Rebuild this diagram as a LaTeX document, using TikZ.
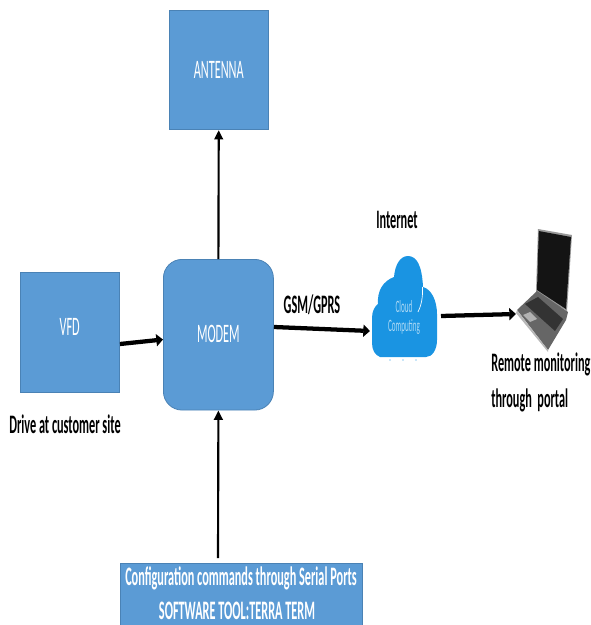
\documentclass[tikz,border=0pt]{standalone}
\usepackage{fontspec}
\setmainfont{Carlito}
\usetikzlibrary{arrows.meta}
\definecolor{boxblue}{HTML}{5B9BD5}
\definecolor{boxedge}{HTML}{4A82B5}
\definecolor{cloudblue}{HTML}{1A94E2}
\newcommand{\sq}[2][0.46]{\scalebox{#1}[1]{#2}}
\tikzset{
  box/.style={draw=boxedge,fill=boxblue,line width=0.6pt,text=white,inner sep=0pt,font=\fontsize{20}{24}\selectfont},
  note/.style={text=black,inner sep=0pt,font=\bfseries\fontsize{20}{24}\selectfont},
  bar/.style={text=white,inner sep=0pt,font=\bfseries\fontsize{20}{24}\selectfont},
  thin link/.style={draw=black,line width=1.6pt,-{Triangle[length=7pt,width=6.5pt]}},
  thick link/.style={draw=black,line width=3.2pt,-{Triangle[length=5pt,width=9pt]}}
}
\begin{document}
\begin{tikzpicture}[x=0.75pt,y=-0.75pt]
\useasboundingbox (0,0) rectangle (590,625);
% boxes
\node[box,minimum width=74pt,minimum height=89.5pt,anchor=north west] (ant) at (169,10) {\sq{ANTENNA}};
\node[box,minimum width=74pt,minimum height=90pt,anchor=north west] (vfd) at (20,272) {\raisebox{8pt}{\sq{VFD}}};
\node[box,rounded corners=14pt,minimum width=82.5pt,minimum height=113pt,anchor=north west] (modem) at (163,259) {\raisebox{1pt}{\sq{MODEM}}};
% bottom bar
\fill[boxblue,draw=boxedge,line width=0.4pt] (120,563) rectangle (362,625);
\node[bar] (cfg) at (241,578) {\sq{Configuration commands through Serial Ports}};
\node[bar] (sw) at (237,611) {\sq{SOFTWARE TOOL:TERRA TERM}};
% cloud
\fill[cloudblue] (380,357) .. controls (375,355) and (372,350) .. (372,343)
  -- (372,318) .. controls (372,311) and (375,306) .. (378,304)
  .. controls (377,291) and (383,281) .. (394,277)
  .. controls (395,265) and (400,256) .. (408,256)
  .. controls (417,256) and (422,266) .. (423,287)
  .. controls (431,289) and (437,300) .. (437,314)
  -- (437,340) .. controls (437,350) and (432,357) .. (426,357) -- cycle;
\draw[white,line width=0.5pt] (422.5,287) .. controls (423,298) and (421,306) .. (418,312);
\node[inner sep=0pt,text=white!65!cloudblue,align=center,font=\fontsize{13}{15}\selectfont] (cloud) at (404,317.5) {\sq[0.41]{Cloud}\\[-0.5pt]\sq[0.41]{Computing}};
\fill[cloudblue] (390,360) circle (0.7) (403,360) circle (0.7) (416,360) circle (0.7);
% laptop
\fill[black!40] (538,229) -- (572,235) -- (567,311) -- (536,292) -- cycle;
\fill[black!92] (538.8,231) -- (571,237) -- (566,309) -- (537,290) -- cycle;
\fill[black!20!gray] (537,291) -- (568,312) -- (566,320) -- (548,350) -- (517,310) -- cycle;
\fill[black!80] (525,304) -- (538,297) -- (563,319) -- (555,331) -- cycle;
\fill[black!30] (523,315) -- (530,312) -- (537,319) -- (530,322) -- cycle;
\fill[black!28] (517,310) -- (548,350) -- (548,352) -- (516,313) -- cycle;
\coordinate (lap) at (516,314);
% labels
\node[note] (inet) at (397,220) {\sq{Internet}};
\node[note] (gsm) at (312,305) {\sq{GSM/GPRS}};
\node[note] (drive) at (65,424) {\sq{Drive at customer site}};
\node[note,anchor=west] (rem1) at (491,364) {\sq{Remote monitoring}};
\node[note,anchor=west] (rem2) at (491,400) {\sq{through \ portal}};
% connector ends
\coordinate (v0) at (120,344);
\coordinate (v1) at (163,339.5);
\coordinate (m0) at (274,327);
\coordinate (c0) at (370,331);
\coordinate (c1) at (441,316);
\coordinate (cfgtop) at (218,558);
% connectors
\draw[thin link] (modem.north) -- (ant.south);
\draw[thin link] (cfgtop) -- (modem.south);
\draw[thick link] (v0) -- (v1);
\draw[thick link] (m0) -- (c0);
\draw[thick link] (c1) -- (lap);
\end{tikzpicture}
\end{document}
